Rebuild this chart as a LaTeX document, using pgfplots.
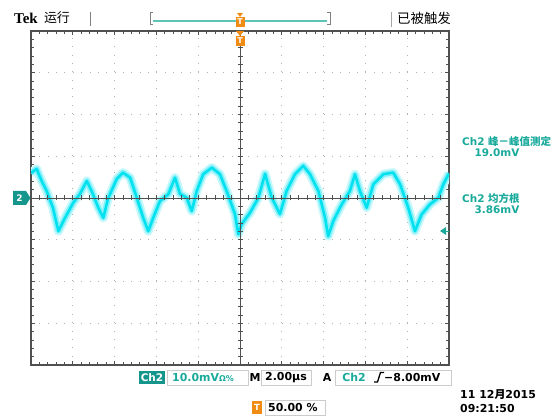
\documentclass[border=0pt]{standalone}
\usepackage{fontspec}
\setmainfont{DejaVu Sans}
\newfontfamily\cjk{Noto Sans CJK SC}
\newfontfamily\tekfont{Liberation Serif}
\usepackage{pgfplots}
\usepackage{pgfplotstable}
\pgfplotsset{compat=1.18}
\definecolor{teal2}{RGB}{25,170,155}
\definecolor{chbox}{RGB}{20,150,140}
\definecolor{trace}{RGB}{0,225,240}
\definecolor{orng}{RGB}{240,140,20}
\definecolor{frame}{RGB}{80,80,80}
\pgfplotstableread{
x y
-10.0 6.0
-9.73 6.97
-9.49 4.09
-9.25 1.68
-8.95 -2.36
-8.69 -7.93
-8.37 -4.74
-7.98 -1.13
-7.66 0.96
-7.33 4.09
-7.10 1.68
-6.78 -2.33
-6.54 -4.74
-6.32 -0.24
-5.90 4.57
-5.60 6.08
-5.26 4.88
-4.94 0.07
-4.63 -4.74
-4.39 -7.93
-4.15 -4.74
-3.83 -0.72
-3.43 0.89
-3.11 4.88
-2.87 0.96
-2.55 0.07
-2.31 -3.13
-2.07 1.68
-1.76 5.70
-1.35 7.28
-0.96 5.70
-0.64 1.68
-0.24 -3.85
-0.08 -8.65
0.08 -6.25
0.48 -3.53
0.88 0.07
1.20 5.77
1.52 0.07
1.91 -3.85
2.23 1.68
2.63 5.70
3.03 7.69
3.35 5.70
3.75 1.68
4.07 -4.74
4.22 -9.13
4.46 -5.53
4.87 -1.51
5.26 1.68
5.50 5.70
5.74 1.68
6.06 -2.33
6.38 3.29
6.86 5.70
7.33 6.08
7.66 3.29
8.05 -2.33
8.37 -7.93
8.69 -3.92
9.09 -1.51
9.49 0.07
9.73 3.29
10.0 5.9
}\wave
\begin{document}
\begin{tikzpicture}
\useasboundingbox (0,0) rectangle (558bp,417bp);
\begin{axis}[at={(31bp,52bp)}, anchor=south west, scale only axis,
  width=418bp, height=334bp,
  xmin=-10, xmax=10, ymin=-40, ymax=40,
  xtick={-10,-8,...,10}, ytick={-40,-30,...,40},
  minor x tick num=4, minor y tick num=4,
  xticklabels={}, yticklabels={},
  xtick pos=both, ytick pos=both,
  tick align=inside, major tick length=4bp, minor tick length=3bp,
  tick style={line width=0.8bp, frame},
  axis line style={line width=1.6bp, frame},
  grid=major,
  major grid style={line width=1bp, gray!60, dash pattern=on 1bp off 7.36bp},
]
\addplot[no marks, line width=9bp, trace!22, line join=round] table[x=x,y=y]{\wave};
\addplot[no marks, line width=5.5bp, trace!50, line join=round] table[x=x,y=y]{\wave};
\addplot[no marks, line width=2.5bp, trace, line join=round] table[x=x,y=y]{\wave};
\end{axis}
\begin{scope}[x=1bp,y=1bp]
% crosshair
\draw[frame, line width=0.8bp] (31,219)--(449,219);
\draw[frame, line width=0.8bp] (240,52)--(240,386);
\foreach \k in {1,...,49} {\draw[frame, line width=0.7bp] ({31+\k*8.36},216.5)--({31+\k*8.36},221.5);}
\foreach \k in {1,...,39} {\draw[frame, line width=0.7bp] (237.5,{52+\k*8.35})--(242.5,{52+\k*8.35});}
% top bar
\node[font=\tekfont\bfseries\fontsize{15}{15}\selectfont, inner sep=0] at (26,399) {Tek};
\node[font=\cjk\fontsize{13}{13}\selectfont, inner sep=0] at (57,399) {运行};
\draw[gray, line width=0.8bp] (90,405)--(90,391);
\draw[gray, line width=0.9bp] (153,405)--(150,405)--(150,393)--(153,393);
\draw[teal2!70, line width=1.6bp] (153,396)--(327,396);
\draw[gray, line width=0.9bp] (327,405)--(330,405)--(330,393)--(327,393);
\draw[gray!70, line width=0.8bp] (391,405)--(391,390);
\node[font=\cjk\fontsize{13.5}{13.5}\selectfont, inner sep=0] at (424,399) {已被触发};
% orange markers
\fill[orng] (237,404)--(243,404)--(240,400)--cycle;
\fill[orng] (235.5,400) rectangle (244.5,390);
\node[white, font=\bfseries\fontsize{8}{8}\selectfont, inner sep=0] at (240,395) {T};
\fill[orng] (236,386)--(244,386)--(240,381)--cycle;
\fill[orng] (235.5,381) rectangle (244.5,371);
\node[white, font=\bfseries\fontsize{8}{8}\selectfont, inner sep=0] at (240,376) {T};
% left channel marker
\fill[chbox] (13,226)--(26,226)--(30.5,219)--(26,212)--(13,212)--cycle;
\node[white, font=\bfseries\fontsize{9}{9}\selectfont, inner sep=0] at (19.5,219) {2};
% trigger level marker
\fill[teal2] (440,186)--(446,190)--(446,182)--cycle;
\draw[teal2, line width=0.8bp] (446,186)--(449,186);
% right measurements
\node[teal2, anchor=west, font=\bfseries\fontsize{10.5}{10.5}\selectfont, inner sep=0] at (462,276) {Ch2 {\cjk 峰－峰值测定}};
\node[teal2, font=\bfseries\fontsize{10.5}{10.5}\selectfont, inner sep=0] at (497,264) {19.0mV};
\node[teal2, anchor=west, font=\bfseries\fontsize{10.5}{10.5}\selectfont, inner sep=0] at (462,219) {Ch2 {\cjk 均方根}};
\node[teal2, font=\bfseries\fontsize{10.5}{10.5}\selectfont, inner sep=0] at (497,207) {3.86mV};
% bottom row 1
\fill[chbox] (139,33) rectangle (165,46);
\node[white, font=\bfseries\fontsize{10.5}{10.5}\selectfont, inner sep=0] at (152,39.5) {Ch2};
\draw[gray!40, line width=0.8bp] (167,32) rectangle (248,47);
\node[teal2, anchor=west, font=\bfseries\fontsize{11}{11}\selectfont, inner sep=0] at (172,39.5) {10.0mV{\fontsize{8}{8}\selectfont Ω\%}};
\node[font=\bfseries\fontsize{11}{11}\selectfont, inner sep=0] at (255,39.5) {M};
\draw[gray!40, line width=0.8bp] (261,32) rectangle (311,47);
\node[font=\bfseries\fontsize{11}{11}\selectfont, inner sep=0] at (286,39.5) {2.00µs};
\node[font=\bfseries\fontsize{11}{11}\selectfont, inner sep=0] at (327,39.5) {A};
\draw[gray!40, line width=0.8bp] (335,32) rectangle (451,47);
\node[teal2, font=\bfseries\fontsize{11}{11}\selectfont, inner sep=0] at (354,39.5) {Ch2};
\draw[line width=1.3bp] (374,35)--(377.5,35)--(380.5,44.5)--(384,44.5);
\node[anchor=west, font=\bfseries\fontsize{11}{11}\selectfont, inner sep=0] at (384,39.5) {−8.00mV};
% bottom row 2
\fill[orng] (252,3.5) rectangle (262,16);
\node[white, font=\bfseries\fontsize{8.5}{8.5}\selectfont, inner sep=0] at (257,9.75) {T};
\draw[gray!40, line width=0.8bp] (265,2) rectangle (325,17);
\node[anchor=west, font=\bfseries\fontsize{11}{11}\selectfont, inner sep=0] at (268,9.5) {50.00 \%};
\node[anchor=west, font=\bfseries\fontsize{11}{11}\selectfont, inner sep=0] at (460,22) {11 12{\cjk 月}2015};
\node[anchor=west, font=\bfseries\fontsize{11}{11}\selectfont, inner sep=0] at (460,8) {09:21:50};
\end{scope}
\end{tikzpicture}
\end{document}
